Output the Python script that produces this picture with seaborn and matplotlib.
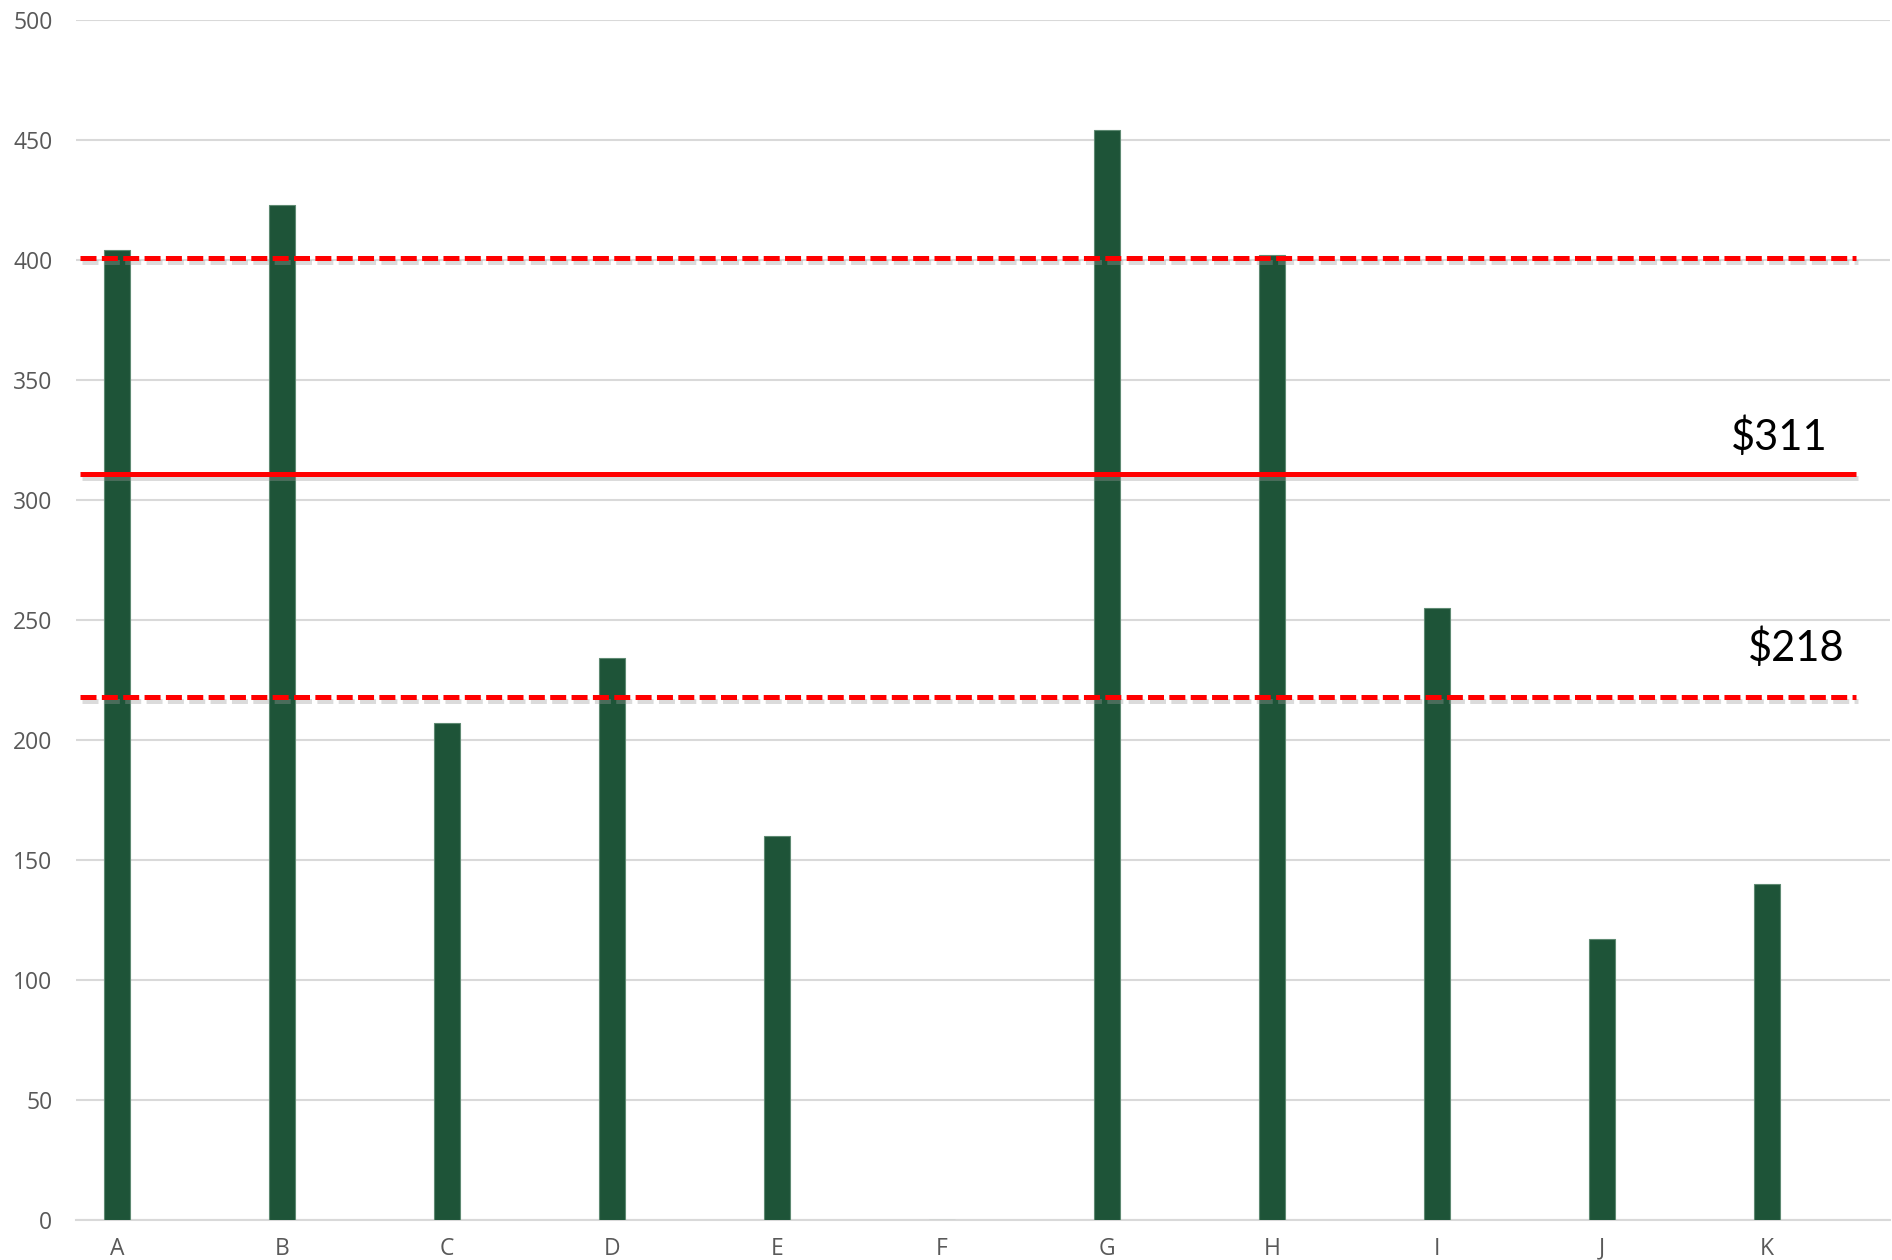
import matplotlib
matplotlib.use("Agg")
import matplotlib.pyplot as plt
import matplotlib.patheffects as pe
import seaborn as sns
import pandas as pd

# Category data
categories = ["A", "B", "C", "D", "E", "F", "G", "H", "I", "J", "K"]
values = [404, 423, 207, 234, 160, 0, 454, 402, 255, 117, 140]

# Reference lines
avg_value = 311
low_value = 218
high_value = 401
avg_label = "$311"
low_label = "$218"

y_ticks = [0, 50, 100, 150, 200, 250, 300, 350, 400, 450, 500]

sns.set_theme(style="white")
plt.rcParams["font.family"] = ["Open Sans", "DejaVu Sans"]

W, H = 1892, 1260
fig = plt.figure(figsize=(W / 100, H / 100), dpi=100)
ax = fig.add_axes([76 / W, 40 / H, (1890 - 76) / W, 1200 / H])

df = pd.DataFrame({"category": categories, "value": values})
sns.barplot(data=df, x="category", y="value", color="#1E5438", width=0.158,
            edgecolor="#5E8A72", linewidth=0.8, saturation=1, ax=ax, zorder=3)

ax.set_ylim(0, 500)
ax.set_xlim(-0.248, 10.745)
ax.set_yticks(y_ticks)
ax.set_xlabel("")
ax.set_ylabel("")

# Horizontal gridlines
ax.yaxis.grid(True, color="#D9D9D9", linewidth=1.5, zorder=0)
ax.set_axisbelow(True)
for s in ["top", "right", "left"]:
    ax.spines[s].set_visible(False)
ax.spines["bottom"].set_color("#D9D9D9")
ax.spines["bottom"].set_linewidth(1.5)

ax.tick_params(axis="both", length=0, labelsize=16.5, labelcolor="#595959")
ax.tick_params(axis="y", pad=17)
ax.tick_params(axis="x", pad=12)

shadow = [pe.SimpleLineShadow(offset=(1.5, -3.0), shadow_color="#9a9a9a", alpha=0.35),
          pe.Normal()]
x0, x1 = -0.224, 10.54
ax.plot([x0, x1], [avg_value, avg_value], color="#FF0000", lw=3.6,
        solid_capstyle="butt", zorder=5, path_effects=shadow)
for yv in (high_value, low_value):
    ax.plot([x0, x1], [yv, yv], color="#FF0000", lw=3.6,
            linestyle=(0, (3.2, 1.07)), dash_capstyle="butt", zorder=5,
            path_effects=shadow)

ax.text(10.37, avg_value + 7, avg_label, ha="right", va="bottom",
        fontsize=30, color="black", family=["Lato", "DejaVu Sans"], zorder=6)
ax.text(10.47, low_value + 12, low_label, ha="right", va="bottom",
        fontsize=30, color="black", family=["Lato", "DejaVu Sans"], zorder=6)

fig.savefig("out.png", dpi=100, facecolor="white")
